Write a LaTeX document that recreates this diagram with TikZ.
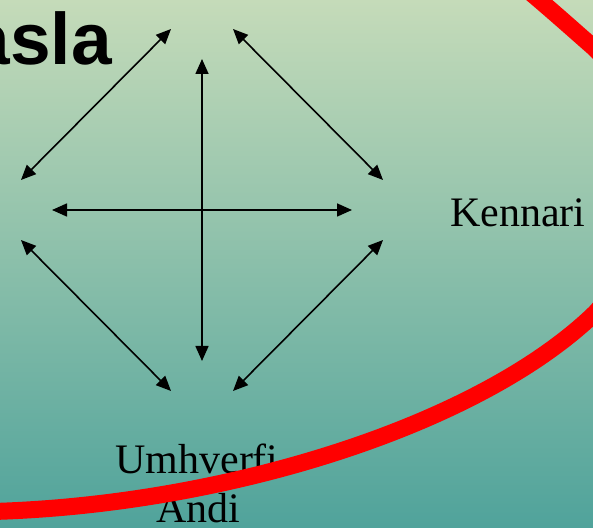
\documentclass[tikz,border=0pt]{standalone}
\usepackage{fontspec}
\setmainfont{Liberation Serif}
\newfontfamily\headfont{Liberation Sans}
\usetikzlibrary{arrows.meta}
\definecolor{bgtop}{RGB}{197,219,185}
\definecolor{bgbottom}{RGB}{80,163,155}
\definecolor{ringred}{RGB}{255,0,0}

\begin{document}
\begin{tikzpicture}[x=1pt, y=1pt,
  relation/.style={{Triangle[length=15pt,width=13pt]}-{Triangle[length=15pt,width=13pt]}, line width=1.6pt},
  word/.style={font=\fontsize{42}{50}\selectfont, inner sep=0pt}]

  \useasboundingbox (0,0) rectangle (593,527);
  \clip (0,0) rectangle (593,527);
  \shade[top color=bgtop, bottom color=bgbottom] (0,0) rectangle (593,527);

  % title, cut at the left edge
  \node[font=\headfont\bfseries\fontsize{73}{80}\selectfont, anchor=base east, inner sep=0pt] (title) at (112,462) {asla};

  % arrow ends round the hub
  \coordinate (hub) at (202,317);
  \coordinate (nw-a) at (21,347);  \coordinate (nw-b) at (171,498);
  \coordinate (ne-a) at (233,498); \coordinate (ne-b) at (383,347);
  \coordinate (sw-a) at (21,287);  \coordinate (sw-b) at (171,136);
  \coordinate (se-a) at (233,136); \coordinate (se-b) at (383,287);
  \coordinate (w) at (52,317);     \coordinate (e) at (352,317);
  \coordinate (n) at (202,468);    \coordinate (s) at (202,166);

  \draw[relation] (nw-a) -- (nw-b);
  \draw[relation] (ne-a) -- (ne-b);
  \draw[relation] (sw-a) -- (sw-b);
  \draw[relation] (se-a) -- (se-b);
  \draw[relation] (w) -- (e);
  \draw[relation] (n) -- (s);

  \node[word, anchor=base west] (kennari) at (450,300) {Kennari};
  \node[word, anchor=base] (umhverfi) at (197,54) {Umhverfi};
  \node[word, anchor=base] (andi) at (198,5) {Andi};

  % red ring
  \draw[ringred, line width=17pt]
    (-40,15) .. controls (200,15) and (470,95) .. (593,212)
    .. controls (648,264) and (653,428) .. (593,480)
    .. controls (560,509) and (520,545) .. (480,575);
\end{tikzpicture}
\end{document}
